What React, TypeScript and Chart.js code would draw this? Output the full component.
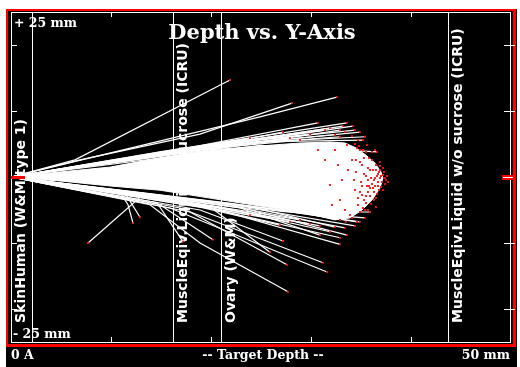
import React, { useEffect, useRef } from "react";
import { Chart, registerables } from "chart.js";

Chart.register(...registerables);

type P = [number, number];

// Axis ranges (mm)
const DEPTH_MIN = 0;
const DEPTH_MAX = 50;
const Y_MIN = -25;
const Y_MAX = 25;
const xTickValues = [10, 20, 30, 40];
const yTickValues = [-20, -10, 10, 20];

// Target layers
const layerBoundaries = [2.1, 16.2, 21.0, 43.7];
const layerLabelDepths = [0, 16.2, 21.0, 43.7];
const layerNames = [
  "SkinHuman (W&M type 1)",
  "MuscleEqiv.Liquid w sucrose (ICRU)",
  "Ovary (W&M)",
  "MuscleEqiv.Liquid w/o sucrose (ICRU)",
];

// Outline of the dense bundle of ion tracks (depth mm, lateral mm)
const coreOutline: P[] = [
  [0, 0], [1.9, 0.3], [4.9, 0.76], [9.9, 1.5], [14.9, 2.9], [19.9, 4.1],
  [24.9, 4.7], [28.9, 5.15], [31.9, 5.3], [33.4, 5.15], [34.5, 4.4],
  [35.5, 3.3], [36.4, 2.1], [37.0, 0.76], [37.2, -0.15], [36.9, -1.67],
  [36.1, -3.5], [35.1, -5.0], [33.9, -6.2], [32.4, -6.5], [28.9, -5.3],
  [24.9, -4.4], [19.9, -3.2], [14.9, -2.0], [9.9, -1.36], [4.9, -0.6],
  [1.9, -0.3], [0, 0],
];

// Individual ion paths outside the bundle
const tracks: P[][] = [
  [[0, 0], [6.4, 2.6], [21.9, 14.7]],
  [[0, 0], [6.9, 2.6], [18.9, 6.5], [28.1, 11.2]],
  [[0, 0], [7.9, 2.9], [24.9, 9.1], [32.6, 12.1]],
  [[0, 0], [13.9, 3.3], [30.7, 8.2]],
  [[0, 0], [14.9, 3.8], [33.6, 8.2]],
  [[0, 0], [18.9, 4.4], [27.2, 6.8]],
  [[0, 0], [16.9, 4.1], [23.9, 5.9]],
  [[0, 0], [20.9, 4.8], [34.2, 7.7]],
  [[0, 0], [23.9, 5.3], [35.2, 5.6]],
  [[0, 0], [24.9, 4.8], [36.6, 3.8]],
  [[0, 0], [28.9, 6.2], [32.9, 7.1]],
  [[0, 0], [20.0, 4.6], [34.9, 6.8]],
  [[0, 0], [18.0, 4.4], [32.9, 6.1]],
  [[0, 0], [15.0, 3.6], [28.9, 5.6]],
  [[0, 0], [22.0, 5.2], [31.9, 7.4]],
  [[0, 0], [21.0, 5.0], [33.2, 7.7]],
  [[0, 0], [19.0, 4.7], [31.4, 7.1]],
  [[0, 0], [17.0, 4.3], [29.9, 6.5]],
  [[0, 0], [23.0, 5.3], [34.4, 7.1]],
  [[0, 0], [16.0, 3.9], [27.9, 5.9]],
  [[0, 0], [24.0, 5.2], [32.4, 6.4]],
  [[0, 0], [26.0, 5.4], [35.4, 6.1]],
  [[0, 0], [8.9, -2.0], [13.2, -2.7], [7.7, -10.0]],
  [[0, 0], [10.9, -2.3], [11.7, -4.2], [12.2, -7.0]],
  [[0, 0], [11.4, -2.4], [12.9, -6.1]],
  [[0, 0], [14.6, -3.9], [17.2, -9.8]],
  [[0, 0], [14.9, -4.2], [20.2, -9.5]],
  [[0, 0], [13.9, -4.2], [18.9, -10.0], [27.7, -17.4]],
  [[0, 0], [15.9, -4.7], [31.6, -14.4]],
  [[0, 0], [16.9, -4.7], [31.2, -13.0]],
  [[0, 0], [17.9, -5.3], [27.6, -13.3]],
  [[0, 0], [18.9, -4.2], [32.9, -10.2]],
  [[0, 0], [18.9, -5.0], [27.2, -9.7]],
  [[0, 0], [19.9, -4.5], [25.9, -11.4]],
  [[0, 0], [21.9, -4.2], [33.6, -8.8]],
  [[0, 0], [23.9, -4.5], [32.4, -7.6]],
  [[0, 0], [22.9, -4.7], [30.9, -8.8]],
  [[0, 0], [26.9, -5.0], [34.6, -6.8]],
  [[0, 0], [28.9, -5.3], [35.9, -5.3]],
  [[0, 0], [22.0, -4.0], [34.9, -6.8]],
  [[0, 0], [17.0, -3.6], [28.9, -6.5]],
  [[0, 0], [14.0, -3.0], [23.9, -5.8]],
  [[0, 0], [20.0, -4.4], [30.9, -7.4]],
  [[0, 0], [19.0, -4.6], [26.9, -7.3]],
  [[0, 0], [21.0, -4.6], [31.9, -8.3]],
  [[0, 0], [23.0, -4.7], [33.4, -7.7]],
  [[0, 0], [25.0, -5.0], [34.4, -7.4]],
  [[0, 0], [18.0, -4.0], [29.9, -7.1]],
  [[0, 0], [16.0, -3.7], [27.9, -6.8]],
  [[0, 0], [27.0, -5.2], [35.4, -6.2]],
  [[0, 0], [20.0, -4.8], [32.9, -9.2]],
];

// Final stopping positions of ions near the end of range
const stopPoints: P[] = [
  [37.2, 0.3], [37.4, -0.15], [36.9, 1.06], [36.7, -0.76], [37.0, -1.52],
  [36.5, 1.82], [36.1, 2.58], [36.3, -2.27], [35.9, -2.88], [35.7, 1.36],
  [35.5, 0.15], [36.0, -0.15], [36.6, 0.15], [36.8, 0.76], [37.1, -0.76],
  [36.4, -1.36], [36.2, 1.06], [35.8, -1.36], [35.3, 2.88], [35.1, -2.73],
  [34.9, 4.09], [35.5, -3.94], [34.7, -4.24], [34.4, -1.97], [34.1, 2.58],
  [34.5, 0.76], [35.0, -0.76], [33.7, 1.06], [33.4, -5.0], [33.9, -5.76],
  [32.9, -3.48], [32.4, 4.09], [31.9, -1.21], [31.4, 2.58], [33.6, 4.85],
  [34.6, 4.39], [35.2, -4.7], [35.7, -5.0], [36.5, -3.18], [36.9, 2.27],
  [36.1, 3.79], [35.1, 1.82], [34.3, -0.45], [33.1, -0.45], [32.1, -4.24],
  [30.7, 4.09], [32.7, 1.82],
  [37.3, 0.76], [37.5, -0.45], [37.4, -1.06], [37.2, 1.36], [36.9, 1.67],
  [36.8, -1.97], [36.6, -2.58], [36.3, -3.48], [36.0, -4.09], [35.8, 2.88],
  [35.5, 3.79], [35.2, 4.09], [34.8, 4.7], [34.4, 5.0], [36.9, -0.15],
  [36.7, 0.45], [36.5, 1.06], [36.3, -0.45], [36.1, -1.06], [35.9, -1.67],
  [35.7, -2.27], [35.5, -2.88], [35.3, -3.48], [35.9, 1.06], [35.7, -0.45],
  [35.3, 0.45], [35.1, -1.36], [34.9, -2.27], [34.7, -3.18], [34.5, 2.58],
  [34.9, 2.27], [35.6, -1.36], [36.4, -0.15], [36.2, -1.67], [36.7, -1.36],
  [37.0, 0.15], [37.2, -1.97], [35.4, -5.0], [34.9, -5.3], [34.1, -6.2],
  [33.5, -6.8], [32.9, -6.5], [34.7, 5.6], [34.1, 6.2], [33.4, 6.8],
  [35.6, 4.85], [36.4, 4.09], [37.6, 0.15], [37.7, -0.76], [36.5, -4.55],
];

const toXY = (pts: P[]) => pts.map(([x, y]) => ({ x, y }));

const serifBold = (px: number) => `bold ${px}px "DejaVu Serif", "Liberation Serif", serif`;

const framePlugin = {
  id: "srimFrame",
  beforeDraw(chart: any) {
    const { ctx, width, height } = chart;
    ctx.save();
    ctx.fillStyle = "#ffffff";
    ctx.fillRect(0, 0, width, height);
    ctx.fillStyle = "#000000";
    ctx.fillRect(6, 9, 511, height - 9);
    ctx.fillStyle = "#ff0000";
    ctx.fillRect(6, 9, 510, 2);
    ctx.fillRect(6, 9, 2, 338);
    ctx.fillRect(513, 9, 3, 338);
    ctx.fillRect(6, 344, 510, 3);
    ctx.restore();
  },
  beforeDatasetsDraw(chart: any) {
    const { ctx, chartArea, scales } = chart;
    const xs = scales.x;
    ctx.save();
    ctx.strokeStyle = "#ffffff";
    ctx.lineWidth = 1;
    layerBoundaries.forEach((d) => {
      const px = Math.round(xs.getPixelForValue(d)) + 0.5;
      ctx.beginPath();
      ctx.moveTo(px, chartArea.top);
      ctx.lineTo(px, chartArea.bottom);
      ctx.stroke();
    });
    ctx.fillStyle = "#ffffff";
    ctx.font = `bold 14px "DejaVu Sans", sans-serif`;
    ctx.textAlign = "left";
    ctx.textBaseline = "alphabetic";
    layerNames.forEach((name, i) => {
      const px = Math.round(xs.getPixelForValue(layerLabelDepths[i]));
      ctx.save();
      ctx.translate(px + 13.5, chartArea.bottom - 19);
      ctx.rotate(-Math.PI / 2);
      ctx.fillText(name, 0, 0);
      ctx.restore();
    });
    ctx.restore();
  },
  afterDraw(chart: any) {
    const { ctx, chartArea, scales } = chart;
    const { left, right, top, bottom } = chartArea;
    const xs = scales.x;
    const ys = scales.y;
    ctx.save();
    ctx.strokeStyle = "#ffffff";
    ctx.lineWidth = 1;
    ctx.strokeRect(left + 0.5, top + 0.5, right - left - 1, bottom - top);
    ctx.beginPath();
    xTickValues.forEach((v) => {
      const px = Math.round(xs.getPixelForValue(v)) + 0.5;
      ctx.moveTo(px, top);
      ctx.lineTo(px, top + 5);
      ctx.moveTo(px, bottom);
      ctx.lineTo(px, bottom - 5);
    });
    yTickValues.forEach((v) => {
      const py = Math.round(ys.getPixelForValue(v)) + 0.5;
      ctx.moveTo(left, py);
      ctx.lineTo(left + 6, py);
      ctx.moveTo(right - 7, py);
      ctx.lineTo(right + 4, py);
    });
    ctx.stroke();

    // zero-lateral markers
    const y0 = Math.round(ys.getPixelForValue(0));
    ctx.fillStyle = "#ff0000";
    ctx.fillRect(left, y0 - 1, 14, 3);
    ctx.fillRect(right - 9, y0 - 2, 14, 5);
    ctx.fillStyle = "#ffffff";
    ctx.fillRect(right - 8, y0, 10, 1);

    // texts
    ctx.fillStyle = "#ffffff";
    ctx.textBaseline = "alphabetic";
    ctx.font = serifBold(21);
    ctx.textAlign = "center";
    ctx.fillText("Depth vs. Y-Axis", 262, 39);

    ctx.font = serifBold(12.5);
    ctx.textAlign = "left";
    ctx.fillText(`+ ${Y_MAX} mm`, left + 3, top + 15);
    ctx.fillText(`- ${Math.abs(Y_MIN)} mm`, left + 2, bottom - 4);
    ctx.fillText("0 A", left, 359);
    ctx.textAlign = "center";
    ctx.fillText("-- Target Depth --", 263, 359);
    ctx.textAlign = "right";
    ctx.fillText(`${DEPTH_MAX} mm`, right - 1, 359);
    ctx.restore();
  },
};

export default function App() {
  const canvasRef = useRef<HTMLCanvasElement | null>(null);

  useEffect(() => {
    const canvas = canvasRef.current;
    if (!canvas) return;

    const endPoints: P[] = tracks.map((t) => t[t.length - 1]);

    const datasets: any[] = [
      {
        data: toXY(stopPoints.concat(endPoints)),
        showLine: false,
        pointRadius: 1.3,
        pointStyle: "rect",
        pointBackgroundColor: "#ff1010",
        pointBorderWidth: 0,
        borderWidth: 0,
      },
      ...tracks.map((t) => ({
        data: toXY(t),
        showLine: true,
        borderColor: "#ffffff",
        borderWidth: 1.2,
        pointRadius: 0,
        fill: false,
        tension: 0,
      })),
      {
        data: toXY(coreOutline),
        showLine: true,
        borderColor: "#ffffff",
        backgroundColor: "#ffffff",
        borderWidth: 1,
        pointRadius: 0,
        fill: "shape",
        tension: 0,
      },
    ];

    const chart = new Chart(canvas, {
      type: "line",
      data: { datasets },
      options: {
        responsive: false,
        animation: false,
        events: [],
        layout: { padding: { left: 11, top: 12, right: 9, bottom: 25 } },
        plugins: { legend: { display: false }, tooltip: { enabled: false } },
        scales: {
          x: { type: "linear", min: DEPTH_MIN, max: DEPTH_MAX, display: false },
          y: { type: "linear", min: Y_MIN, max: Y_MAX, display: false },
        },
      },
      plugins: [framePlugin],
    });

    return () => chart.destroy();
  }, []);

  return (
    <div style={{ position: "absolute", left: 0, top: 0, width: 520, height: 367, background: "#fff" }}>
      <canvas ref={canvasRef} width={520} height={367} style={{ display: "block" }} />
    </div>
  );
}
